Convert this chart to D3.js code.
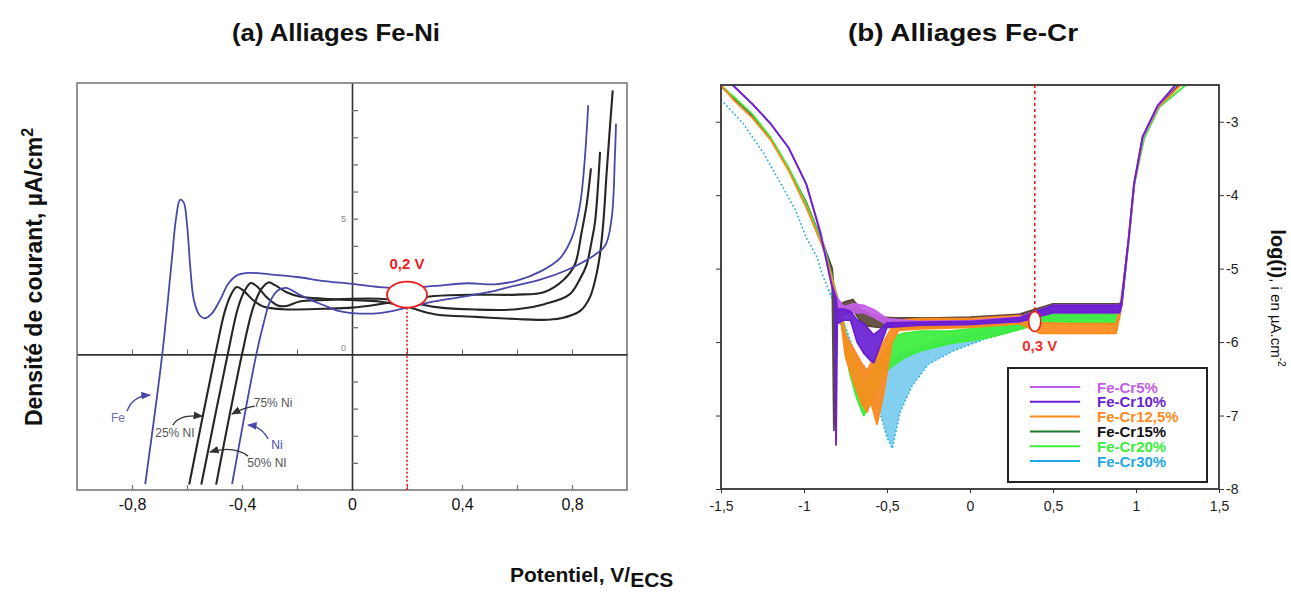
<!DOCTYPE html>
<html><head><meta charset="utf-8">
<script src="https://cdn.jsdelivr.net/npm/d3@7"></script>
<style>
body{margin:0;background:#fff}
svg{display:block}
text{font-family:"Liberation Sans",Arial,sans-serif}
</style>
</head><body>
<svg id="c" width="1291" height="597"></svg>
<script>
// ---------- Panel (a) : Fe-Ni polarisation curves  [E (V/ECS), i (µA/cm²)] ----------
const feCurve = [[-0.752,-4.78],[-0.69,0],[-0.655,3.5],[-0.64,5.0],[-0.625,5.7],[-0.612,5.6],[-0.6,4.8],[-0.588,3.2],[-0.575,2.0],[-0.555,1.45],[-0.535,1.33],[-0.51,1.5],[-0.48,2.0],[-0.45,2.6],[-0.42,2.9],[-0.38,3.0],[-0.3,2.95],[-0.2,2.85],[-0.1,2.7],[0,2.6],[0.1,2.48],[0.2,2.45],[0.3,2.52],[0.42,2.62],[0.52,2.58],[0.6,2.72],[0.684,3.05],[0.756,3.54],[0.799,4.28],[0.829,5.5],[0.845,7.0],[0.859,9.18]];
const niCurve = [[-0.436,-4.78],[-0.348,0],[-0.32,1.2],[-0.3,1.9],[-0.27,2.35],[-0.24,2.45],[-0.2,2.25],[-0.15,2.0],[-0.1,1.8],[-0.05,1.6],[0,1.52],[0.1,1.52],[0.2,1.72],[0.3,1.95],[0.4,2.12],[0.5,2.3],[0.56,2.45],[0.684,2.75],[0.78,3.1],[0.865,3.55],[0.92,4.0],[0.944,5.0],[0.956,7.3],[0.96,8.5]];
const ni25Curve = [[-0.592,-4.8],[-0.497,0],[-0.462,1.6],[-0.44,2.2],[-0.419,2.48],[-0.395,2.35],[-0.36,2.0],[-0.32,1.75],[-0.25,1.66],[-0.1,1.68],[0,1.72],[0.1,1.85],[0.2,2.02],[0.3,2.15],[0.45,2.2],[0.6,2.2],[0.7,2.3],[0.77,2.75],[0.81,3.3],[0.835,4.5],[0.853,5.5],[0.869,6.85]];
const ni50Curve = [[-0.548,-4.8],[-0.452,0],[-0.415,1.7],[-0.39,2.35],[-0.368,2.63],[-0.345,2.5],[-0.31,2.1],[-0.27,1.8],[-0.24,1.78],[-0.19,1.95],[-0.1,2.0],[0,2.05],[0.1,2.05],[0.2,1.95],[0.3,1.75],[0.45,1.65],[0.6,1.66],[0.7,1.85],[0.79,2.2],[0.83,2.8],[0.853,3.3],[0.872,4.2],[0.884,4.9],[0.902,7.46]];
const ni75Curve = [[-0.494,-4.8],[-0.40,0],[-0.36,1.7],[-0.33,2.4],[-0.303,2.65],[-0.28,2.55],[-0.24,2.3],[-0.19,2.13],[-0.1,2.05],[0,2.0],[0.1,1.95],[0.2,1.75],[0.3,1.48],[0.45,1.38],[0.6,1.3],[0.68,1.27],[0.76,1.33],[0.83,1.6],[0.865,2.1],[0.89,3.0],[0.902,3.7],[0.915,5.0],[0.926,6.7],[0.948,9.73]];
const xTicksA = [-0.8,-0.6,-0.4,-0.2,0,0.2,0.4,0.6,0.8];
const yTicksA = [-4,-3,-2,-1,1,2,3,4,5,6,7,8,9];
// annotation labels : [text, x, y, arrowStartX, arrowStartY, ctrlX, ctrlY, arrowEndX, arrowEndY]
const annotA = [
  ["Fe",-0.851,-2.35,-0.818,-2.1,-0.80,-1.55,-0.735,-1.5],
  ["25% NI",-0.644,-2.9,-0.651,-2.61,-0.63,-2.2,-0.545,-2.28],
  ["75% Ni",-0.287,-1.8,-0.353,-1.91,-0.39,-1.95,-0.436,-2.2],
  ["Ni",-0.273,-3.35,-0.305,-3.12,-0.33,-2.65,-0.378,-2.61],
  ["50% NI",-0.309,-4.0,-0.378,-3.75,-0.43,-3.35,-0.516,-3.6]
];

// ---------- Panel (b) : Fe-Cr log(i) curves  [E, lowest log(i), highest log(i)] ----------
const cr5 = [[-1.43,-2.5,-2.5],[-1.31,-2.76,-2.76],[-1.2,-3.03,-3.03],[-1.094,-3.35,-3.35],[-0.986,-3.85,-3.85],[-0.9,-4.5,-4.5],[-0.835,-5.2,-5.2],[-0.8,-5.5,-5.4],[-0.76,-5.62,-5.52],[-0.7,-5.6,-5.48],[-0.64,-5.6,-5.5],[-0.58,-5.66,-5.56],[-0.5,-5.76,-5.68],[-0.3,-5.77,-5.72],[0,-5.76,-5.71],[0.3,-5.72,-5.66],[0.5,-5.6,-5.5],[0.9,-5.6,-5.5],[0.913,-5.5,-5.45],[0.956,-4.6,-4.6],[0.988,-3.87,-3.87],[1.04,-3.22,-3.22],[1.13,-2.8,-2.8],[1.24,-2.5,-2.5]];
const cr10 = [[-1.43,-2.5,-2.5],[-1.31,-2.76,-2.76],[-1.2,-3.03,-3.03],[-1.094,-3.35,-3.35],[-0.986,-3.85,-3.85],[-0.9,-4.53,-4.53],[-0.835,-5.21,-5.21],[-0.815,-5.4,-5.35],[-0.807,-7.4,-5.4],[-0.8,-5.75,-5.55],[-0.76,-5.7,-5.55],[-0.72,-5.7,-5.58],[-0.68,-6.0,-5.7],[-0.64,-6.15,-5.75],[-0.6,-6.25,-5.85],[-0.58,-6.28,-5.9],[-0.55,-6.1,-5.85],[-0.5,-5.8,-5.74],[-0.3,-5.77,-5.73],[0,-5.76,-5.72],[0.3,-5.72,-5.67],[0.5,-5.6,-5.5],[0.9,-5.6,-5.5],[0.913,-5.5,-5.45],[0.956,-4.58,-4.58],[0.988,-3.85,-3.85],[1.04,-3.2,-3.2],[1.13,-2.78,-2.78],[1.237,-2.5,-2.5]];
const cr125 = [[-1.5,-2.5,-2.5],[-1.418,-2.72,-2.72],[-1.31,-2.95,-2.95],[-1.2,-3.25,-3.25],[-1.094,-3.66,-3.66],[-0.986,-4.17,-4.17],[-0.878,-4.75,-4.75],[-0.814,-5.28,-5.28],[-0.78,-5.65,-5.55],[-0.75,-6.2,-5.9],[-0.7,-6.55,-6.1],[-0.65,-6.85,-6.3],[-0.62,-6.95,-6.4],[-0.6,-6.8,-6.3],[-0.56,-7.12,-6.2],[-0.52,-6.7,-6.0],[-0.47,-6.0,-5.8],[-0.43,-5.84,-5.7],[-0.3,-5.82,-5.68],[0,-5.8,-5.68],[0.3,-5.75,-5.64],[0.42,-5.88,-5.74],[0.6,-5.88,-5.75],[0.88,-5.88,-5.75],[0.905,-5.6,-5.5],[0.93,-5.1,-5.1],[0.958,-4.58,-4.58],[0.99,-3.85,-3.85],[1.045,-3.2,-3.2],[1.135,-2.8,-2.8],[1.27,-2.5,-2.5]];
const cr15 = [[-1.5,-2.52,-2.52],[-1.418,-2.69,-2.69],[-1.31,-2.92,-2.92],[-1.202,-3.23,-3.23],[-1.094,-3.64,-3.64],[-0.986,-4.14,-4.1],[-0.878,-4.75,-4.7],[-0.83,-5.1,-5.0],[-0.82,-7.2,-5.3],[-0.8,-5.7,-5.5],[-0.75,-5.6,-5.45],[-0.706,-5.55,-5.42],[-0.66,-5.72,-5.55],[-0.62,-5.78,-5.6],[-0.55,-5.8,-5.66],[-0.45,-5.8,-5.67],[-0.2,-5.8,-5.67],[0,-5.78,-5.66],[0.3,-5.72,-5.62],[0.5,-5.62,-5.48],[0.9,-5.62,-5.48],[0.913,-5.5,-5.45],[0.956,-4.58,-4.58],[0.988,-3.85,-3.85],[1.04,-3.21,-3.21],[1.13,-2.8,-2.8],[1.258,-2.5,-2.5]];
const cr20 = [[-1.5,-2.51,-2.51],[-1.418,-2.67,-2.67],[-1.31,-2.9,-2.9],[-1.202,-3.21,-3.21],[-1.094,-3.62,-3.62],[-0.986,-4.12,-4.12],[-0.878,-4.71,-4.71],[-0.814,-5.26,-5.26],[-0.78,-5.65,-5.55],[-0.727,-6.4,-6.1],[-0.684,-6.75,-6.3],[-0.64,-7.0,-6.6],[-0.6,-6.85,-6.4],[-0.576,-6.7,-6.3],[-0.51,-6.4,-6.1],[-0.45,-6.3,-5.92],[-0.4,-6.22,-5.88],[-0.3,-6.12,-5.85],[-0.123,-6.02,-5.85],[0.093,-5.95,-5.8],[0.309,-5.82,-5.68],[0.417,-5.75,-5.6],[0.525,-5.72,-5.56],[0.74,-5.74,-5.57],[0.89,-5.74,-5.57],[0.913,-5.5,-5.45],[0.958,-4.58,-4.58],[0.99,-3.85,-3.85],[1.05,-3.22,-3.22],[1.14,-2.8,-2.8],[1.3,-2.5,-2.5]];
const cr30 = [[-1.5,-2.7,-2.7],[-1.418,-2.9,-2.9],[-1.364,-3.03,-3.03],[-1.29,-3.28,-3.28],[-1.245,-3.42,-3.42],[-1.116,-3.94,-3.94],[-1.05,-4.21,-4.21],[-0.986,-4.58,-4.58],[-0.92,-4.85,-4.85],[-0.89,-5.08,-5.08],[-0.857,-5.26,-5.26],[-0.8,-5.6,-5.5],[-0.75,-6.0,-5.8],[-0.7,-6.4,-6.1],[-0.65,-6.7,-6.3],[-0.6,-6.85,-6.4],[-0.55,-6.9,-6.3],[-0.5,-7.3,-6.3],[-0.468,-7.45,-6.25],[-0.42,-6.95,-6.15],[-0.35,-6.6,-6.1],[-0.25,-6.3,-6.02],[-0.1,-6.12,-5.92],[0.1,-5.95,-5.82],[0.31,-5.82,-5.7],[0.417,-5.72,-5.62],[0.6,-5.68,-5.55],[0.9,-5.7,-5.55],[0.913,-5.5,-5.45],[0.958,-4.58,-4.58],[0.99,-3.85,-3.85],[1.05,-3.22,-3.22],[1.14,-2.8,-2.8],[1.3,-2.5,-2.5]];
const seriesNames = ["Fe-Cr5%","Fe-Cr10%","Fe-Cr12,5%","Fe-Cr15%","Fe-Cr20%","Fe-Cr30%"];
const xTicksB = [-1.5,-1,-0.5,0,0.5,1,1.5];
const yTicksB = [-3,-4,-5,-6,-7,-8];

// ---------- styles ----------
const seriesColors = ["#c35ee6","#6a1fd2","#ff8a1c","#5a4838","#3cee3c","#1ea8e4"];
const legendLineColors = ["#c35ee6","#6a1fd2","#ff8a1c","#1f7a2e","#3cee3c","#1ea8e4"];
const legendTextColors = ["#c35ee6","#6a1fd2","#ff8a1c","#111111","#3cee3c","#1ea8e4"];
const RED = "#ee1c1c", BLUE = "#4848a8", BLACK = "#262626";

const svg = d3.select("#c");
const fmt = d => (Math.round(d*10)/10).toString().replace(".", ",");

// ================= Panel (a) =================
const xA = d3.scaleLinear().domain([-1, 1]).range([77, 627]);
const yA = d3.scaleLinear().domain([-5, 10]).range([490, 83]);

svg.append("defs").html(
 `<clipPath id="clipA"><rect x="${xA(-1)}" y="${yA(10)}" width="${xA(1)-xA(-1)}" height="${yA(-5)-yA(10)}"/></clipPath>
  <marker id="arrK" viewBox="0 0 8 8" refX="7" refY="4" markerWidth="7" markerHeight="7" orient="auto"><path d="M0,0.8L8,4L0,7.2z" fill="#333"/></marker>
  <marker id="arrB" viewBox="0 0 8 8" refX="7" refY="4" markerWidth="7" markerHeight="7" orient="auto"><path d="M0,0.8L8,4L0,7.2z" fill="${BLUE}"/></marker>`);

const gA = svg.append("g");
gA.append("rect").attr("x", xA(-1)).attr("y", yA(10))
  .attr("width", xA(1)-xA(-1)).attr("height", yA(-5)-yA(10))
  .attr("fill", "none").attr("stroke", "#7a7a7a").attr("stroke-width", 1.6);

const axA = gA.append("g").attr("transform", `translate(0,${yA(-5)})`)
  .call(d3.axisBottom(xA).tickValues(xTicksA).tickSizeInner(-5).tickSizeOuter(0).tickPadding(9)
    .tickFormat(d => (Math.abs(Math.round(d*10)) % 4 === 0) ? fmt(d) : ""));
axA.select(".domain").remove();
axA.selectAll("line").attr("stroke", "#777").attr("stroke-width", 1.2);
axA.selectAll("text").attr("font-size", 16).attr("fill", "#111");

const zx = gA.append("g").attr("transform", `translate(0,${yA(0)})`)
  .call(d3.axisBottom(xA).tickValues(xTicksA.filter(d => d !== 0)).tickSizeInner(-5).tickSizeOuter(0).tickFormat(""));
zx.select(".domain").attr("stroke", "#333").attr("stroke-width", 1.6);
zx.selectAll("line").attr("stroke", "#666");

const zy = gA.append("g").attr("transform", `translate(${xA(0)},0)`)
  .call(d3.axisRight(yA).tickValues(yTicksA).tickSizeInner(6).tickSizeOuter(0).tickFormat(""));
zy.select(".domain").attr("stroke", "#333").attr("stroke-width", 1.6);
zy.selectAll("line").attr("stroke", "#666").attr("stroke-width", 1.2);
[0, 5].forEach(v => gA.append("text").attr("x", xA(0)-6).attr("y", yA(v)-(v===0?6:0))
  .attr("text-anchor", "end").attr("dominant-baseline", "central")
  .attr("font-size", 9).attr("fill", "#888").text(v));

const lineA = d3.line().x(d => xA(d[0])).y(d => yA(d[1])).curve(d3.curveCatmullRom.alpha(0.5));
const curvesG = gA.append("g").attr("clip-path", "url(#clipA)").attr("fill", "none");
[ni25Curve, ni50Curve, ni75Curve].forEach(c =>
  curvesG.append("path").attr("d", lineA(c)).attr("stroke", BLACK).attr("stroke-width", 2.1));
[feCurve, niCurve].forEach(c =>
  curvesG.append("path").attr("d", lineA(c)).attr("stroke", BLUE).attr("stroke-width", 1.8));

annotA.forEach(a => {
  const isBlue = a[0] === "Ni" || a[0] === "Fe";
  gA.append("path")
    .attr("d", `M${xA(a[3])},${yA(a[4])}Q${xA(a[5])},${yA(a[6])} ${xA(a[7])},${yA(a[8])}`)
    .attr("fill", "none").attr("stroke", isBlue ? BLUE : "#333").attr("stroke-width", 1.4)
    .attr("marker-end", isBlue ? "url(#arrB)" : "url(#arrK)");
  gA.append("text").attr("x", xA(a[1])).attr("y", yA(a[2]))
    .attr("text-anchor", "middle").attr("dominant-baseline", "central")
    .attr("font-size", 12).attr("fill", a[0] === "Ni" ? BLUE : (a[0] === "Fe" ? "#7070b0" : "#555"))
    .text(a[0]);
});

const eA = {x: 0.2, y: 2.2};
gA.append("line").attr("x1", xA(eA.x)).attr("x2", xA(eA.x))
  .attr("y1", yA(eA.y)+13).attr("y2", yA(-5))
  .attr("stroke", RED).attr("stroke-width", 1.6).attr("stroke-dasharray", "2,2");
gA.append("ellipse").attr("cx", xA(eA.x)).attr("cy", yA(eA.y)).attr("rx", 20).attr("ry", 13)
  .attr("fill", "#fff").attr("stroke", RED).attr("stroke-width", 1.8);
gA.append("text").attr("x", xA(eA.x)).attr("y", yA(3.35)).attr("text-anchor", "middle")
  .attr("dominant-baseline", "central").attr("font-size", 15).attr("font-weight", "bold")
  .attr("fill", RED).text("0,2 V");

// ================= Panel (b) =================
const xB = d3.scaleLinear().domain([-1.5, 1.5]).range([721, 1219]);
const yB = d3.scaleLinear().domain([-8, -2.5]).range([489, 85]);
const gB = svg.append("g");
svg.select("defs").append("clipPath").attr("id", "clipB").append("rect")
  .attr("x", xB(-1.5)).attr("y", yB(-2.5)).attr("width", xB(1.5)-xB(-1.5)).attr("height", yB(-8)-yB(-2.5));

const bandB = d3.area().x(d => xB(d[0])).y0(d => yB(d[1])).y1(d => yB(d[2])).curve(d3.curveLinear);
const order = [5, 3, 4, 2, 0, 1];
const dataB = [cr5, cr10, cr125, cr15, cr20, cr30];
const plotB = gB.append("g").attr("clip-path", "url(#clipB)");
order.forEach(i => {
  const p = plotB.append("path").attr("d", bandB(dataB[i]))
    .attr("fill", seriesColors[i]).attr("fill-opacity", i === 5 ? 0.55 : 0.92)
    .attr("stroke", seriesColors[i]).attr("stroke-width", i === 5 ? 1.6 : 1.8)
    .attr("stroke-linejoin", "round");
  if (i === 5) p.attr("stroke-dasharray", "1.5,2.5");
});

gB.append("rect").attr("x", xB(-1.5)).attr("y", yB(-2.5))
  .attr("width", xB(1.5)-xB(-1.5)).attr("height", yB(-8)-yB(-2.5))
  .attr("fill", "none").attr("stroke", "#333").attr("stroke-width", 1.8);

const axB = gB.append("g").attr("transform", `translate(0,${yB(-8)})`)
  .call(d3.axisBottom(xB).tickValues(xTicksB).tickSizeInner(4).tickSizeOuter(0).tickPadding(8).tickFormat(fmt));
axB.select(".domain").remove();
axB.selectAll("line").attr("stroke", "#333");
axB.selectAll("text").attr("font-size", 14).attr("fill", "#222");

const ayR = gB.append("g").attr("transform", `translate(${xB(1.5)},0)`)
  .call(d3.axisRight(yB).tickValues(yTicksB).tickSizeInner(5).tickSizeOuter(0).tickPadding(2).tickFormat(d => String(d)));
ayR.select(".domain").remove();
ayR.selectAll("line").attr("stroke", "#333");
ayR.selectAll("text").attr("font-size", 14).attr("fill", "#222");

const ayL = gB.append("g").attr("transform", `translate(${xB(-1.5)},0)`)
  .call(d3.axisLeft(yB).tickValues(yTicksB).tickSizeInner(5).tickSizeOuter(0).tickFormat(""));
ayL.select(".domain").remove();
ayL.selectAll("line").attr("stroke", "#333");

const eB = {x: 0.39, y: -5.72};
gB.append("line").attr("x1", xB(eB.x)).attr("x2", xB(eB.x))
  .attr("y1", yB(-2.5)).attr("y2", yB(eB.y)-10)
  .attr("stroke", RED).attr("stroke-width", 1.6).attr("stroke-dasharray", "3,3");
gB.append("ellipse").attr("cx", xB(eB.x)).attr("cy", yB(eB.y)).attr("rx", 6).attr("ry", 10)
  .attr("fill", "#fff").attr("stroke", RED).attr("stroke-width", 1.5);
gB.append("text").attr("x", xB(0.42)).attr("y", yB(-6.05)).attr("text-anchor", "middle")
  .attr("dominant-baseline", "central").attr("font-size", 15).attr("font-weight", "bold")
  .attr("fill", "#f03030").text("0,3 V");

const lg = gB.append("g");
lg.append("rect").attr("x", 1008).attr("y", 368).attr("width", 199).attr("height", 114)
  .attr("fill", "#fff").attr("stroke", "#222").attr("stroke-width", 2);
seriesNames.forEach((n, i) => {
  const y = 387 + i * 14.8;
  lg.append("line").attr("x1", 1030).attr("x2", 1080).attr("y1", y).attr("y2", y)
    .attr("stroke", legendLineColors[i]).attr("stroke-width", 2);
  lg.append("text").attr("x", 1097).attr("y", y).attr("dominant-baseline", "central")
    .attr("font-size", 15).attr("font-weight", "bold").attr("fill", legendTextColors[i]).text(n);
});

// ================= titles & axis labels =================
svg.append("text").attr("x", 336).attr("y", 41).attr("text-anchor", "middle")
  .attr("font-size", 23).attr("font-weight", "bold").attr("fill", "#111")
  .attr("textLength", 208).attr("lengthAdjust", "spacingAndGlyphs").text("(a) Alliages Fe-Ni");
svg.append("text").attr("x", 963).attr("y", 41).attr("text-anchor", "middle")
  .attr("font-size", 23).attr("font-weight", "bold").attr("fill", "#111")
  .attr("textLength", 230).attr("lengthAdjust", "spacingAndGlyphs").text("(b) Alliages Fe-Cr");

const yl = svg.append("text").attr("transform", "translate(42,277) rotate(-90)")
  .attr("text-anchor", "middle").attr("font-size", 23).attr("font-weight", "bold").attr("fill", "#111");
yl.append("tspan").text("Densité de courant, µA/cm");
yl.append("tspan").attr("dy", -9).attr("font-size", 16).text("2");

const xl = svg.append("text").attr("x", 510).attr("y", 582)
  .attr("font-size", 21).attr("font-weight", "bold").attr("fill", "#111");
xl.append("tspan").text("Potentiel, V/");
xl.append("tspan").attr("dy", 5).text("ECS");

const rl = svg.append("text").attr("transform", "translate(1271,298) rotate(90)")
  .attr("text-anchor", "middle").attr("fill", "#111");
rl.append("tspan").attr("font-size", 20).attr("font-weight", "bold").text("log(i)");
rl.append("tspan").attr("font-size", 15).text(", i en µA.cm");
rl.append("tspan").attr("font-size", 10).attr("dy", -7).text("-2");
</script>
</body></html>
